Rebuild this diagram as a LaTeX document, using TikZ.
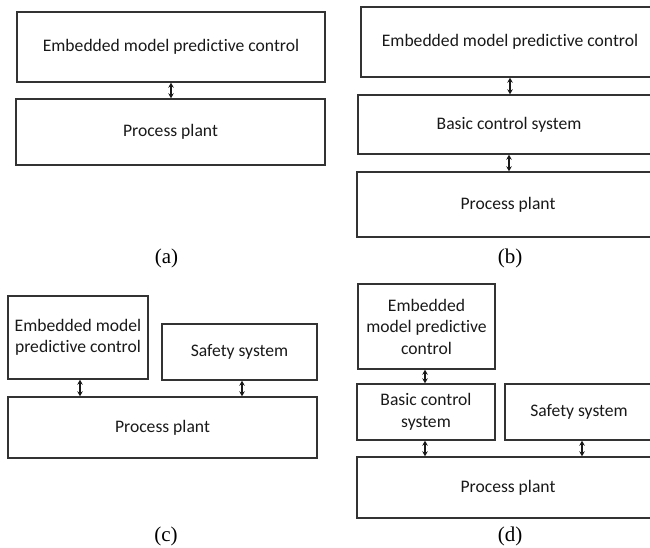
\documentclass[tikz,border=0pt]{standalone}
\usepackage{fontspec}
\setmainfont{Carlito}[Ligatures=NoCommon]
\newfontfamily\capfont{Liberation Serif}
\usetikzlibrary{arrows.meta}
\begin{document}
\begin{tikzpicture}[x=1pt,y=-1pt,
  blk/.style={draw=black!80,line width=1.4pt,rectangle,inner sep=0pt,align=center,
    font=\fontsize{17.6}{21.5}\selectfont,text=black!90},
  arr/.style={line width=1.5pt,draw=black!90,{Stealth[length=5pt,width=5.5pt]}-{Stealth[length=5pt,width=5.5pt]}},
  caplabel/.style={font=\capfont\fontsize{21}{23}\selectfont,inner sep=0pt}]
\useasboundingbox (0,0) rectangle (650,548);
\clip (0,0) rectangle (650,548);
% (a)
\node[blk,minimum width=308pt,minimum height=70pt] (a1) at (171,47) {Embedded model predictive control};
\node[blk,minimum width=309pt,minimum height=66pt] (a2) at (170.5,132) {Process plant};
\draw[arr] (a1.south) -- (a1.south |- a2.north);
\node[caplabel] (ca) at (166.5,258) {(a)};
% (b)
\node[blk,minimum width=298pt,minimum height=70pt] (b1) at (510,42) {Embedded model predictive control};
\node[blk,minimum width=302pt,minimum height=59pt] (b2) at (509,124.5) {Basic control system};
\node[blk,minimum width=302pt,minimum height=65pt] (b3) at (508,204.5) {Process plant};
\draw[arr] (b1.south) -- (b1.south |- b2.north);
\draw[arr] (b2.south) -- (b2.south |- b3.north);
\node[caplabel] (cb) at (510,258) {(b)};
% (c)
\node[blk,minimum width=140pt,minimum height=83pt] (c1) at (78,337.5) {Embedded model\\predictive control};
\node[blk,minimum width=155pt,minimum height=56pt] (c2) at (239.5,352) {Safety system};
\node[blk,minimum width=309pt,minimum height=61pt] (c3) at (162.5,427.5) {Process plant};
\coordinate (c1x) at ([xshift=2pt]c1.south);
\coordinate (c2x) at ([xshift=2.5pt]c2.south);
\draw[arr] (c1x) -- (c1x |- c3.north);
\draw[arr] (c2x) -- (c2x |- c3.north);
\node[caplabel] (cc) at (166,536) {(c)};
% (d)
\node[blk,minimum width=137pt,minimum height=85pt] (d1) at (426.5,326.5) {Embedded\\model predictive\\control};
\node[blk,minimum width=138pt,minimum height=56pt] (d2) at (426,412) {Basic control\\system};
\node[blk,minimum width=148pt,minimum height=56pt] (d3) at (579,412) {Safety system};
\node[blk,minimum width=302pt,minimum height=61pt] (d4) at (508,487.5) {Process plant};
\coordinate (d1x) at ([xshift=-1.5pt]d1.south);
\coordinate (d2x) at ([xshift=-1pt]d2.south);
\coordinate (d3x) at ([xshift=3pt]d3.south);
\draw[arr] (d1x) -- (d1x |- d2.north);
\draw[arr] (d2x) -- (d2x |- d4.north);
\draw[arr] (d3x) -- (d3x |- d4.north);
\node[caplabel] (cd) at (510,536) {(d)};
\end{tikzpicture}
\end{document}
